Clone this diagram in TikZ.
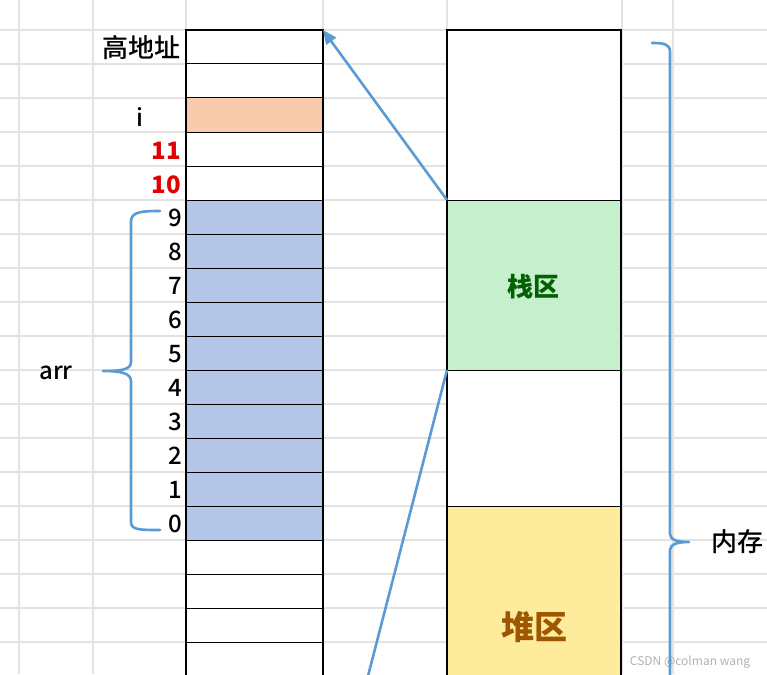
\documentclass[tikz,border=0pt]{standalone}
\usepackage{fontspec}
\setmainfont{Noto Sans CJK SC}
\newfontfamily\medf{Noto Sans CJK SC Medium}
\usetikzlibrary{arrows.meta}
\definecolor{bl}{HTML}{5B9BD5}
\definecolor{gridc}{HTML}{E3E3E3}
\definecolor{orangec}{HTML}{F8CBAD}
\definecolor{bluec}{HTML}{B4C6E7}
\definecolor{greenc}{HTML}{C6EFCE}
\definecolor{greent}{HTML}{006100}
\definecolor{yellowc}{HTML}{FFEB9C}
\definecolor{brownt}{HTML}{9C5700}
\definecolor{redt}{HTML}{E00000}
\begin{document}
\begin{tikzpicture}[x=1pt,y=-1pt,
  cell/.style={draw=black, line width=1pt, fill=white, minimum width=137pt, minimum height=34pt, inner sep=0pt, outer sep=0pt},
  part/.style={draw=black, line width=1pt, fill=white, minimum width=174pt, inner sep=0pt, outer sep=0pt},
  lbl/.style={anchor=east, inner sep=0pt, font=\medf\fontsize{24}{26}\selectfont},
  brc/.style={draw=bl, line width=2.6pt, line cap=round, line join=round},
  conn/.style={draw=bl, line width=2.6pt}
]
\useasboundingbox (0,0) rectangle (767,674);
\fill[white] (0,0) rectangle (767,674);
% spreadsheet grid
\foreach \gx in {19,93,186,323,447,622,673}
  \draw[gridc, line width=1.2pt] (\gx,0) -- (\gx,674);
\foreach \k in {0,...,18}
  \draw[gridc, line width=1.2pt] (0,30+34*\k) -- (767,30+34*\k);
% left column of cells
\foreach \k in {0,...,18}
  \node[cell] (L\k) at (254.5,47+34*\k) {};
\node[cell, fill=orangec] (L2) at (254.5,115) {};
\foreach \k in {5,...,14}
  \node[cell, fill=bluec] (L\k) at (254.5,47+34*\k) {};
\draw[black, line width=1.8pt] (186,30) rectangle (323,720);
% right column
\node[part, minimum height=170pt] (R1) at (534,115) {};
\node[part, minimum height=170pt, fill=greenc] (R2) at (534,285) {};
\node[part, minimum height=136pt] (R3) at (534,438) {};
\node[part, minimum height=242pt, fill=yellowc] (R4) at (534,627) {};
\draw[black, line width=1.8pt] (447,30) rectangle (621,760);
\node[text=greent, font=\fontsize{26}{28}\selectfont\bfseries] (stack) at (533,287) {栈区};
\node[text=brownt, font=\fontsize{33}{35}\selectfont\bfseries] (heap) at (534,627) {堆区};
% labels
\node[lbl, font=\medf\fontsize{26}{28}\selectfont] (high) at (181,48) {高地址};
\node[inner sep=0pt, font=\medf\fontsize{24}{26}\selectfont] (li) at (140,117) {i};
\node[lbl, text=redt, font=\bfseries\fontsize{24}{26}\selectfont] (l11) at (181,151) {11};
\node[lbl, text=redt, font=\bfseries\fontsize{24}{26}\selectfont] (l10) at (181,185) {10};
\foreach \d in {0,...,9}
  \node[lbl] (d\d) at (182,524-34*\d) {\d};
\node[inner sep=0pt, font=\medf\fontsize{24}{26}\selectfont] (arr) at (56,373) {arr};
\node[inner sep=0pt, font=\medf\fontsize{26}{28}\selectfont] (mem) at (737,542) {内存};
\node[inner sep=0pt, text=black!30, font=\fontsize{12}{14}\selectfont] (wm) at (690,662) {CSDN @colman wang};
% braces
\draw[brc] (160,211) .. controls (140,211) and (131,212) .. (131,222) -- (131,362)
  .. controls (131,370) and (120,371) .. (103,371)
  .. controls (120,371) and (131,373) .. (131,381) -- (131,522)
  .. controls (131,530) and (140,530) .. (160,530);
\draw[brc] (652,43) .. controls (664,43) and (670,44) .. (670,52) -- (670,534)
  .. controls (670,540) and (678,542) .. (689,542)
  .. controls (678,542) and (670,544) .. (670,550) -- (670,690);
% connectors
\coordinate (lowend) at (368,676);
\draw[conn, -{Triangle[length=14pt,width=12pt]}] (R2.north west) -- (L0.north east);
\draw[conn] (R3.north west) -- (lowend);
\end{tikzpicture}
\end{document}
